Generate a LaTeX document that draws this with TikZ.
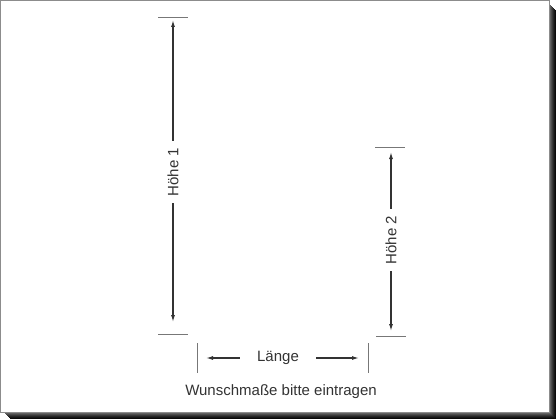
\documentclass[tikz,border=0pt]{standalone}
\usepackage{fontspec}
\setmainfont{Liberation Sans}
\usetikzlibrary{arrows.meta}
\definecolor{ink}{HTML}{333333}
\definecolor{tick}{HTML}{777777}
\begin{document}
\begin{tikzpicture}[x=1pt,y=-1pt,
  dimline/.style={draw=ink,line width=1.2pt,-{Latex[length=7pt,width=4pt]}},
  tickline/.style={draw=tick,line width=1pt},
  lbl/.style={text=ink,font=\fontsize{15}{18}\selectfont,inner ysep=0pt},
  vlbl/.style={lbl,rotate=90,inner xsep=7pt},
  hlbl/.style={lbl,inner xsep=17pt}]
\useasboundingbox (0,0) rectangle (560,420);
\fill[white] (0,0) rectangle (560,420);
% shadow
\foreach \i/\c in {0/55,1/62,2/70,3/78,4/85,5/91,6/96} {
  \fill[black!\c!white] (549+\i,4+\i) rectangle (550+\i,413+\i);
  \fill[black!\c!white] (4+\i,412+\i) rectangle (550+\i,413+\i);
}
\draw[black!45,line width=1pt] (0.5,0.5) rectangle (549,412);
% Hoehe 1
\coordinate (h1t) at (173,20);
\coordinate (h1b) at (173,322);
\node[vlbl] (h1) at (173,172) {Höhe 1};
\draw[tickline] (158,18) -- (188,18);
\draw[tickline] (158,334) -- (188,334);
\draw[dimline] (h1.east) -- (h1t);
\draw[dimline] (h1.west) -- (h1b);
% Hoehe 2
\coordinate (h2t) at (391,152);
\coordinate (h2b) at (391,331);
\node[vlbl] (h2) at (391,240) {Höhe 2};
\draw[tickline] (375,147) -- (405,147);
\draw[tickline] (376,336) -- (406,336);
\draw[dimline] (h2.east) -- (h2t);
\draw[dimline] (h2.west) -- (h2b);
% Laenge
\coordinate (ll) at (206,358);
\coordinate (lr) at (359,358);
\node[hlbl] (la) at (278,358) {Länge};
\draw[tickline] (197,343) -- (197,373);
\draw[tickline] (368,343) -- (368,373);
\draw[dimline] (la.west) -- (ll);
\draw[dimline] (la.east) -- (lr);
% caption
\node[lbl] (cap) at (281,392) {Wunschmaße bitte eintragen};
\end{tikzpicture}
\end{document}
